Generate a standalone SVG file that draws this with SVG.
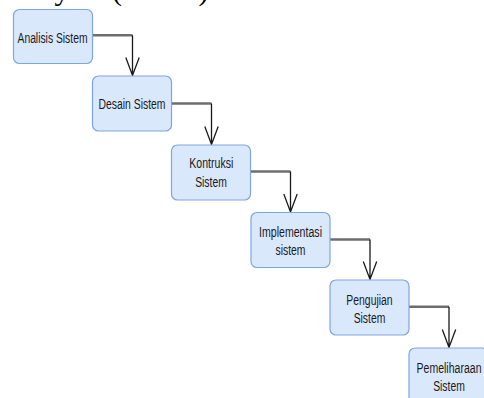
<svg xmlns="http://www.w3.org/2000/svg" width="484" height="398" viewBox="0 0 484 398">
<defs>
<style>
.node rect{fill:#dae8fc;stroke:#7ea6e0;stroke-width:1.2}
.node text{font-family:"Liberation Sans",Arial,sans-serif;font-size:14px;fill:#1a1a1a;text-anchor:middle}
.h{fill:none;stroke:#6e6e6e;stroke-width:2.4}
.v{fill:none;stroke:#1a1a1a;stroke-width:1.3}
.title{font-family:"Liberation Serif","Times New Roman",serif;font-size:30px;fill:#000}
</style>
</defs>
<rect width="484" height="398" fill="#fff"/>
<text class="title" x="-23" y="-0.5">Life Cycle (SDLC).</text>
<g id="connectors">
<path class="h" d="M92.5 35.3H132.5"/><path class="v" d="M132.5 35.3V75.5M125.8 57.5L132.5 75.5L139.2 57.5"/>
<path class="h" d="M171.5 103.5H211.5"/><path class="v" d="M211.5 103.5V144.5M204.8 126.5L211.5 144.5L218.2 126.5"/>
<path class="h" d="M250.5 171.5H290.5"/><path class="v" d="M290.5 171.5V212M283.8 194L290.5 212L297.2 194"/>
<path class="h" d="M330 239.5H370"/><path class="v" d="M370 239.5V279.5M363.3 261.5L370 279.5L376.7 261.5"/>
<path class="h" d="M409 306.8H449"/><path class="v" d="M449 306.8V347.5M442.3 329.5L449 347.5L455.7 329.5"/>
</g>
<g id="n1" class="node"><rect x="13.5" y="9.5" width="79" height="54" rx="6"/><text x="52.5" y="42.5" textLength="70" lengthAdjust="spacingAndGlyphs">Analisis Sistem</text></g>
<g id="n2" class="node"><rect x="92.5" y="76" width="79" height="55" rx="6"/><text x="132" y="109.3" textLength="67" lengthAdjust="spacingAndGlyphs">Desain Sistem</text></g>
<g id="n3" class="node"><rect x="171.5" y="145" width="79" height="55" rx="6"/><text x="211.3" y="168.3" textLength="44" lengthAdjust="spacingAndGlyphs">Kontruksi</text><text x="211" y="187.3" textLength="31.7" lengthAdjust="spacingAndGlyphs">Sistem</text></g>
<g id="n4" class="node"><rect x="251" y="212.5" width="79" height="55" rx="6"/><text x="290.5" y="236.5" textLength="63" lengthAdjust="spacingAndGlyphs">Implementasi</text><text x="290.5" y="255" textLength="30" lengthAdjust="spacingAndGlyphs">sistem</text></g>
<g id="n5" class="node"><rect x="330" y="280" width="79" height="55" rx="6"/><text x="369.5" y="304.5" textLength="46.3" lengthAdjust="spacingAndGlyphs">Pengujian</text><text x="369.5" y="323" textLength="31.7" lengthAdjust="spacingAndGlyphs">Sistem</text></g>
<g id="n6" class="node"><rect x="409" y="348" width="79" height="55" rx="6"/><text x="449" y="373" textLength="65" lengthAdjust="spacingAndGlyphs">Pemeliharaan</text><text x="449" y="391.3" textLength="31.7" lengthAdjust="spacingAndGlyphs">Sistem</text></g>
</svg>
